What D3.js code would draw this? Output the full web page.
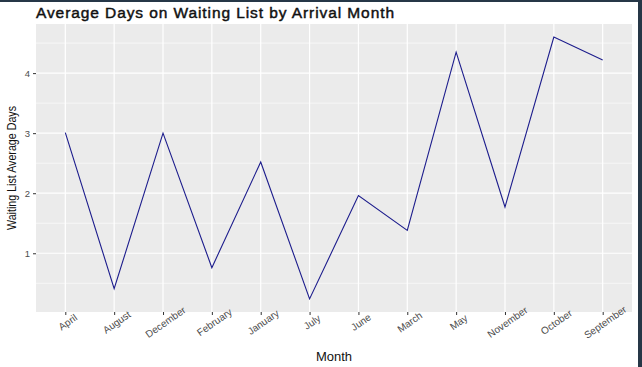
<!DOCTYPE html>
<html><head><meta charset="utf-8">
<script src="https://cdn.jsdelivr.net/npm/d3@7"></script>
<style>body{margin:0;background:#fff}svg{display:block}</style>
</head><body>
<script>
const months = ["April","August","December","February","January","July","June","March","May","November","October","September"];
const avgDays = [3.01, 0.41, 3.0, 0.76, 2.52, 0.24, 1.96, 1.38, 4.35, 1.77, 4.60, 4.22];
const yTicks = [1, 2, 3, 4];
const yMinor = [0.5, 1.5, 2.5, 3.5, 4.5];

const W = 642, H = 367;
const P = {left: 36, right: 632, top: 24, bottom: 312};
const svg = d3.select("body").append("svg").attr("width", W).attr("height", H);

svg.append("rect").attr("width", W).attr("height", H).attr("fill", "#fff");

const x = d3.scalePoint().domain(months).range([P.left, P.right]).padding(0.6);
const lo = d3.min(avgDays), hi = d3.max(avgDays), r = hi - lo;
const y = d3.scaleLinear().domain([lo - 0.05 * r, hi + 0.05 * r]).range([P.bottom, P.top]);

svg.append("rect").attr("x", P.left).attr("y", P.top)
  .attr("width", P.right - P.left).attr("height", P.bottom - P.top).attr("fill", "#EBEBEB");

const g = svg.append("g");
g.selectAll(".ymin").data(yMinor.filter(v => y(v) > P.top && y(v) < P.bottom)).enter().append("line")
  .attr("x1", P.left).attr("x2", P.right).attr("y1", d => y(d)).attr("y2", d => y(d))
  .attr("stroke", "#fff").attr("stroke-width", 0.6);
g.selectAll(".ymaj").data(yTicks).enter().append("line")
  .attr("x1", P.left).attr("x2", P.right).attr("y1", d => y(d)).attr("y2", d => y(d))
  .attr("stroke", "#fff").attr("stroke-width", 1.2);
g.selectAll(".xmaj").data(months).enter().append("line")
  .attr("y1", P.top).attr("y2", P.bottom).attr("x1", d => x(d)).attr("x2", d => x(d))
  .attr("stroke", "#fff").attr("stroke-width", 1.2);

const line = d3.line().x((d, i) => x(months[i])).y(d => y(d));
svg.append("path").datum(avgDays).attr("d", line)
  .attr("fill", "none").attr("stroke", "#1c1c8c").attr("stroke-width", 1.1);

const FF = "Liberation Sans, Arial, sans-serif";

// Y axis
const yAxis = svg.append("g").attr("transform", `translate(${P.left},0)`)
  .call(d3.axisLeft(y).tickValues(yTicks).tickSize(3).tickPadding(3).tickFormat(d3.format("d")));
yAxis.select(".domain").remove();
yAxis.selectAll("line").attr("stroke", "#333");
yAxis.selectAll("text").attr("fill", "#4d4d4d").style("font-family", FF).style("font-size", "9.5px");

// X axis
const xAxis = svg.append("g").attr("transform", `translate(0,${P.bottom})`)
  .call(d3.axisBottom(x).tickSize(3).tickPadding(2));
xAxis.select(".domain").remove();
xAxis.selectAll("line").attr("stroke", "#333");
xAxis.selectAll("text")
  .attr("fill", "#4d4d4d").style("font-family", FF).style("font-size", "10px")
  .attr("text-anchor", "middle").attr("dy", null).attr("y", 0)
  .attr("transform", "translate(4,13) rotate(-35)");

// Titles
svg.append("text").attr("x", P.left).attr("y", 17.5)
  .style("font-family", FF).style("font-size", "15.5px")
  .attr("stroke", "#111").attr("stroke-width", 0.45)
  .attr("textLength", 358).attr("lengthAdjust", "spacing")
  .attr("fill", "#111").text("Average Days on Waiting List by Arrival Month");

svg.append("text").attr("x", (P.left + P.right) / 2).attr("y", 361).attr("text-anchor", "middle")
  .style("font-family", FF).style("font-size", "13px")
  .attr("fill", "#111").text("Month");

svg.append("text").attr("transform", `translate(16,${(P.top + P.bottom) / 2}) rotate(-90)`)
  .attr("text-anchor", "middle")
  .style("font-family", FF).style("font-size", "13px")
  .attr("textLength", 124).attr("lengthAdjust", "spacingAndGlyphs")
  .attr("fill", "#111").text("Waiting List Average Days");

// frame bands
svg.append("rect").attr("x", 0).attr("y", 0).attr("width", W).attr("height", 2).attr("fill", "#263747");
svg.append("rect").attr("x", 638).attr("y", 0).attr("width", 4).attr("height", H).attr("fill", "#263747");
</script>
</body></html>
